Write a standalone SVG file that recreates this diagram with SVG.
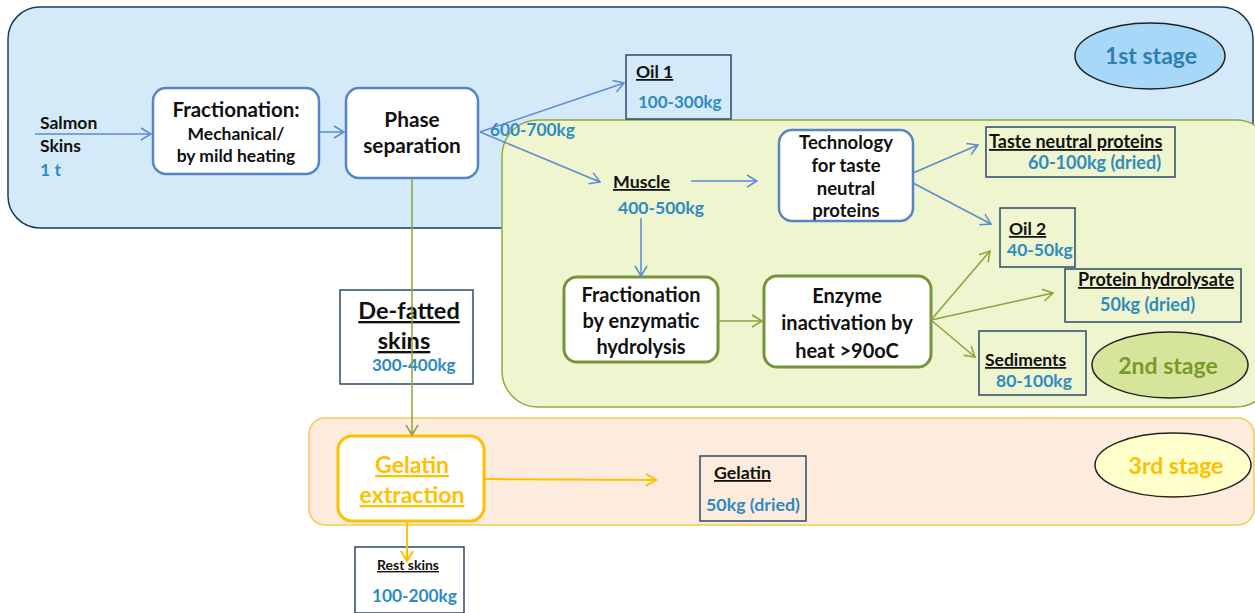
<svg xmlns="http://www.w3.org/2000/svg" width="1255" height="613" viewBox="0 0 1255 613">
<defs>
<style>
text{font-family:Lato,"Liberation Sans",sans-serif;font-weight:bold;fill:#111}
.c{text-anchor:middle}
.v{fill:#2e8bc0}
.u{text-decoration:underline}
.proc{fill:#fff;stroke:#5585c5;stroke-width:2.5}
.procg{fill:#fff;stroke:#77933c;stroke-width:3}
.out{fill:none;stroke:#2a4a6a;stroke-width:1.5}
.lb{fill:none;stroke:#5b8bd0;stroke-width:1.5}
.lg{fill:none;stroke:#88a33c;stroke-width:1.5}
.lo{fill:none;stroke:#ffc000;stroke-width:2}
</style>
<marker id="ab" markerWidth="14" markerHeight="14" refX="12" refY="7" orient="auto" markerUnits="userSpaceOnUse"><path d="M2,1 L12,7 L2,13" fill="none" stroke="#5b8bd0" stroke-width="1.5"/></marker>
<marker id="ag" markerWidth="14" markerHeight="14" refX="12" refY="7" orient="auto" markerUnits="userSpaceOnUse"><path d="M2,1 L12,7 L2,13" fill="none" stroke="#88a33c" stroke-width="1.5"/></marker>
<marker id="ao" markerWidth="14" markerHeight="14" refX="12" refY="7" orient="auto" markerUnits="userSpaceOnUse"><path d="M2,1 L12,7 L2,13" fill="none" stroke="#ffc000" stroke-width="2"/></marker>
</defs>
<rect width="1255" height="613" fill="#fff"/>
<g id="stage1">
<rect x="8" y="7" width="1245" height="221" rx="32" fill="#d5eaf8" stroke="#1f3b5a" stroke-width="1.5"/>
<ellipse cx="1150" cy="56" rx="75" ry="33" fill="#a8d8f8" stroke="#222" stroke-width="1.5"/>
<text x="1151" y="64" class="c" style="font-size:23px;fill:#2e7fb0">1st stage</text>
</g>
<g id="stage2">
<rect x="502" y="120" width="770" height="287" rx="36" fill="#eef5cf" stroke="#8eab3e" stroke-width="1.5"/>
<ellipse cx="1170" cy="365" rx="78" ry="33" fill="#d6e59c" stroke="#222" stroke-width="1.5"/>
<text x="1168" y="374" class="c" style="font-size:23px;fill:#789a2c">2nd stage</text>
</g>
<g id="stage3">
<rect x="309" y="418" width="945" height="107" rx="16" fill="#fdecdd" stroke="#f9c84a" stroke-width="1.5"/>
<ellipse cx="1173" cy="465" rx="78" ry="32" fill="#ffffcc" stroke="#222" stroke-width="1.5"/>
<text x="1176" y="474" class="c" style="font-size:23px;fill:#ffc000">3rd stage</text>
</g>
<g id="salmon">
<text x="40" y="129" style="font-size:17.5px">Salmon</text>
<text x="40" y="152" style="font-size:17.5px">Skins</text>
<text x="40" y="176" class="v" style="font-size:17.5px">1 t</text>
</g>
<g id="fractionation">
<rect x="153" y="88" width="166" height="86" rx="13" class="proc"/>
<text x="236" y="117" class="c" style="font-size:20.5px">Fractionation:</text>
<text x="236" y="140" class="c" style="font-size:17.5px">Mechanical/</text>
<text x="236" y="162" class="c" style="font-size:17.5px">by mild heating</text>
</g>
<g id="phase">
<rect x="346" y="88" width="132" height="90" rx="13" class="proc"/>
<text x="412" y="127" class="c" style="font-size:20.8px">Phase</text>
<text x="412" y="153" class="c" style="font-size:20.8px">separation</text>
</g>
<text x="490" y="136" class="v" style="font-size:17.3px">600-700kg</text>
<g id="oil1">
<rect x="626" y="55" width="105" height="64" class="out"/>
<text x="636" y="78" class="u" style="font-size:17.5px">Oil 1</text>
<text x="638" y="108" class="v" style="font-size:17px">100-300kg</text>
</g>
<g id="muscle">
<text x="613" y="188" class="u" style="font-size:17.8px">Muscle</text>
<text x="618" y="214" class="v" style="font-size:17.5px">400-500kg</text>
</g>
<g id="technology">
<rect x="779" y="130" width="134" height="91" rx="13" class="proc"/>
<text x="846" y="149" class="c" style="font-size:18.5px">Technology</text>
<text x="846" y="172" class="c" style="font-size:18.5px">for taste</text>
<text x="846" y="195" class="c" style="font-size:18.5px">neutral</text>
<text x="846" y="217" class="c" style="font-size:18.5px">proteins</text>
</g>
<g id="taste">
<rect x="986" y="127" width="189" height="50" class="out"/>
<text x="989" y="148" class="u" style="font-size:18px">Taste neutral proteins</text>
<text x="1028" y="169" class="v" style="font-size:18px">60-100kg (dried)</text>
</g>
<g id="oil2">
<rect x="1000" y="208" width="75" height="59" class="out"/>
<text x="1009" y="235" class="u" style="font-size:17.5px">Oil 2</text>
<text x="1007" y="256" class="v" style="font-size:17.5px">40-50kg</text>
</g>
<g id="enzymatic">
<rect x="564" y="277" width="154" height="85" rx="13" class="procg"/>
<text x="641" y="302" class="c" style="font-size:20px">Fractionation</text>
<text x="641" y="328" class="c" style="font-size:20px">by enzymatic</text>
<text x="641" y="354" class="c" style="font-size:20px">hydrolysis</text>
</g>
<g id="enzyme">
<rect x="764" y="276" width="167" height="91" rx="13" class="procg"/>
<text x="847" y="303" class="c" style="font-size:20px">Enzyme</text>
<text x="847" y="330" class="c" style="font-size:20px">inactivation by</text>
<text x="847" y="358" class="c" style="font-size:20px">heat &gt;90oC</text>
</g>
<g id="hydrolysate">
<rect x="1065" y="269" width="176" height="53" class="out"/>
<text x="1078" y="286" class="u" style="font-size:18px">Protein hydrolysate</text>
<text x="1100" y="311" class="v" style="font-size:18px">50kg (dried)</text>
</g>
<g id="sediments">
<rect x="979" y="331" width="107" height="64" class="out"/>
<text x="985" y="366" class="u" style="font-size:17.5px">Sediments</text>
<text x="996" y="387" class="v" style="font-size:17.5px">80-100kg</text>
</g>
<g id="defatted">
<rect x="340" y="290" width="133" height="94" class="out"/>
<text x="409" y="319" class="c u" style="font-size:23.5px">De-fatted</text>
<text x="404" y="349" class="c u" style="font-size:23.5px">skins</text>
<text x="372" y="371" class="v" style="font-size:17px">300-400kg</text>
</g>
<g id="gelatinext">
<rect x="338" y="436" width="146" height="85" rx="14" fill="#fff" stroke="#ffc000" stroke-width="3"/>
<text x="412" y="473" class="c u" style="font-size:23px;fill:#ffc000">Gelatin</text>
<text x="412" y="503" class="c u" style="font-size:23px;fill:#ffc000">extraction</text>
</g>
<g id="gelatin">
<rect x="700" y="456" width="106" height="65" class="out"/>
<text x="714" y="479" class="u" style="font-size:17.8px">Gelatin</text>
<text x="706" y="511" class="v" style="font-size:17.8px">50kg (dried)</text>
</g>
<g id="rest">
<rect x="355" y="547" width="109" height="66" class="out"/>
<text x="377" y="570" class="u" style="font-size:14px">Rest skins</text>
<text x="372" y="602" class="v" style="font-size:17.3px">100-200kg</text>
</g>
<g id="connectors">
<line x1="35" y1="134" x2="151" y2="134" class="lb" marker-end="url(#ab)"/>
<line x1="319" y1="132" x2="344" y2="132" class="lb" marker-end="url(#ab)"/>
<line x1="480" y1="132" x2="624" y2="83" class="lb" marker-end="url(#ab)"/>
<line x1="480" y1="132" x2="600" y2="182" class="lb" marker-end="url(#ab)"/>
<line x1="691" y1="181" x2="757" y2="181" class="lb" marker-end="url(#ab)"/>
<line x1="913" y1="173" x2="978" y2="145" class="lb" marker-end="url(#ab)"/>
<line x1="913" y1="183" x2="991" y2="224" class="lb" marker-end="url(#ab)"/>
<line x1="641" y1="218" x2="641" y2="276" class="lb" marker-end="url(#ab)"/>
<line x1="718" y1="321" x2="762" y2="321" class="lg" marker-end="url(#ag)"/>
<line x1="931" y1="320" x2="990" y2="251" class="lg" marker-end="url(#ag)"/>
<line x1="931" y1="320" x2="1053" y2="293" class="lg" marker-end="url(#ag)"/>
<line x1="931" y1="320" x2="975" y2="357" class="lg" marker-end="url(#ag)"/>
<line x1="412" y1="178" x2="412" y2="435" class="lg" marker-end="url(#ag)"/>
<line x1="484" y1="479" x2="656" y2="480" class="lo" marker-end="url(#ao)"/>
<line x1="407" y1="522" x2="407" y2="561" class="lo" marker-end="url(#ao)"/>
</g>
</svg>
